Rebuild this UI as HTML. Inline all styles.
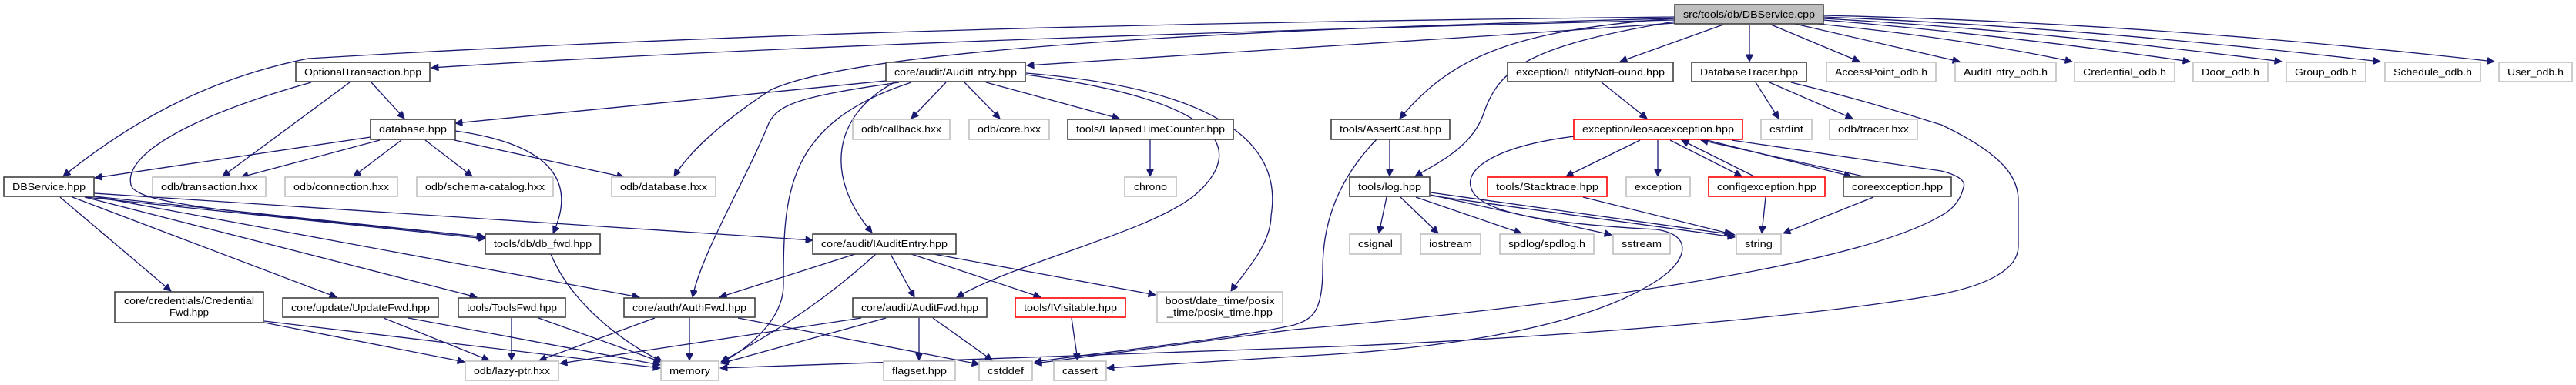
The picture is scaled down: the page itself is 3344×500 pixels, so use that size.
<!DOCTYPE html>
<html><head><meta charset="utf-8"><style>
html,body{margin:0;padding:0;background:#fff;}
svg{display:block;}
text{font-family:"Liberation Sans",sans-serif;font-size:13px;fill:#000;text-anchor:middle;}
.b{fill:#fff;stroke:#404040;stroke-width:1.6;}
.g{fill:#fff;stroke:#bfbfbf;stroke-width:1.6;}
.r{fill:#fff;stroke:#ff0000;stroke-width:1.6;}
.e path{fill:none;stroke:#191970;stroke-width:1.3;}
</style></head><body>
<svg width="3344" height="500" viewBox="0 0 3344 500" xmlns="http://www.w3.org/2000/svg">
<defs><marker id="a" viewBox="0 0 10 10" refX="10" refY="5" markerWidth="11" markerHeight="9" markerUnits="userSpaceOnUse" orient="auto"><path d="M0,0 L10,5 L0,10 z" fill="#191970" stroke="#191970"/></marker></defs>
<g class="e" marker-end="url(#a)">
<path marker-end="url(#a)" d="M2174,22 C1600,28 1000,40 400,76 C280,100 180,150 82,229"/>
<path marker-end="url(#a)" d="M2174,26 C1600,40 1000,60 560,88"/>
<path marker-end="url(#a)" d="M2174,30 C1900,50 1700,60 1333,85"/>
<path marker-end="url(#a)" d="M2174,24 C1500,40 1100,70 1000,117 C950,150 900,190 875,229"/>
<path marker-end="url(#a)" d="M2174,24 C1950,40 1880,80 1817,154"/>
<path marker-end="url(#a)" d="M2174,28 C1980,60 1945,90 1925,150 C1910,190 1870,210 1837,229"/>
<path marker-end="url(#a)" d="M2237,32 L2103,80"/>
<path marker-end="url(#a)" d="M2271,32 L2271,80"/>
<path marker-end="url(#a)" d="M2299,32 L2414,80"/>
<path marker-end="url(#a)" d="M2330,31 L2544,80"/>
<path marker-end="url(#a)" d="M2360,31 Q2550,50 2690,80"/>
<path marker-end="url(#a)" d="M2367,26 Q2600,45 2843,80"/>
<path marker-end="url(#a)" d="M2367,24 Q2650,40 2962,80"/>
<path marker-end="url(#a)" d="M2367,22 Q2700,35 3090,80"/>
<path marker-end="url(#a)" d="M2367,20 Q2800,30 3238,80"/>
<path marker-end="url(#a)" d="M482,107 L525,154"/>
<path marker-end="url(#a)" d="M454,107 L289,229"/>
<path marker-end="url(#a)" d="M404,107 C250,150 160,200 170,240 C175,265 300,275 628,308"/>
<path marker-end="url(#a)" d="M481,178 L123,231"/>
<path marker-end="url(#a)" d="M493,182 L313,230"/>
<path marker-end="url(#a)" d="M521,182 L459,229"/>
<path marker-end="url(#a)" d="M552,182 L613,229"/>
<path marker-end="url(#a)" d="M590,182 L810,230"/>
<path marker-end="url(#a)" d="M591,170 C712,187 750,233 718,303"/>
<path marker-end="url(#a)" d="M122,255 L630,308"/>
<path marker-end="url(#a)" d="M112,256 L630,310"/>
<path marker-end="url(#a)" d="M122,251 L1055,312"/>
<path marker-end="url(#a)" d="M78,256 L222,378"/>
<path marker-end="url(#a)" d="M94,256 L437,386"/>
<path marker-end="url(#a)" d="M110,256 L619,386"/>
<path marker-end="url(#a)" d="M122,255 L830,386"/>
<path marker-end="url(#a)" d="M343,419 L603,470"/>
<path marker-end="url(#a)" d="M343,417 L857,478"/>
<path marker-end="url(#a)" d="M498,413 L635,468"/>
<path marker-end="url(#a)" d="M530,413 L857,474"/>
<path marker-end="url(#a)" d="M664,413 L664,468"/>
<path marker-end="url(#a)" d="M699,413 L858,470"/>
<path marker-end="url(#a)" d="M850,413 L700,468"/>
<path marker-end="url(#a)" d="M895,413 L895,468"/>
<path marker-end="url(#a)" d="M958,413 L1271,473"/>
<path marker-end="url(#a)" d="M715,330 C740,390 800,440 860,470"/>
<path marker-end="url(#a)" d="M1150,105 L591,160"/>
<path marker-end="url(#a)" d="M1167,107 C1040,125 1010,135 998,160 C970,230 910,330 899,386"/>
<path marker-end="url(#a)" d="M1183,107 C1020,160 1017,250 1017,370 C1017,420 960,460 937,470"/>
<path marker-end="url(#a)" d="M1161,107 C1080,150 1070,230 1132,302"/>
<path marker-end="url(#a)" d="M1228,107 L1183,154"/>
<path marker-end="url(#a)" d="M1252,107 L1298,154"/>
<path marker-end="url(#a)" d="M1280,107 L1453,154"/>
<path marker-end="url(#a)" d="M1332,97 C1580,130 1620,190 1555,250 C1500,300 1320,340 1242,386"/>
<path marker-end="url(#a)" d="M1332,95 C1640,120 1660,220 1650,280 C1650,320 1610,360 1598,378"/>
<path marker-end="url(#a)" d="M1493,181 L1493,229"/>
<path marker-end="url(#a)" d="M1110,330 L934,386"/>
<path marker-end="url(#a)" d="M1137,330 C1060,400 990,440 936,470"/>
<path marker-end="url(#a)" d="M1156,330 L1187,386"/>
<path marker-end="url(#a)" d="M1183,330 L1351,386"/>
<path marker-end="url(#a)" d="M1212,330 L1500,383"/>
<path marker-end="url(#a)" d="M1118,413 L727,472"/>
<path marker-end="url(#a)" d="M1150,413 L936,472"/>
<path marker-end="url(#a)" d="M1193,413 L1193,468"/>
<path marker-end="url(#a)" d="M1211,413 L1288,468"/>
<path marker-end="url(#a)" d="M1391,413 L1399,468"/>
<path marker-end="url(#a)" d="M1787,181 C1730,240 1717,300 1717,350 C1717,410 1700,415 1680,422 C1600,440 1450,455 1343,470"/>
<path marker-end="url(#a)" d="M2248,182 L2520,222 C2544,228 2552,236 2549,243 C2545,260 2535,272 2520,280 C2400,350 2000,400 1680,428 L1343,472"/>
<path marker-end="url(#a)" d="M2325,107 C2420,130 2480,150 2520,162 C2600,200 2620,230 2620,260 L2620,320 C2620,350 2580,370 2520,382 C2300,420 1900,445 1680,452 L935,478"/>
<path marker-end="url(#a)" d="M2044,177 C1940,190 1900,220 1910,245 C1920,275 2000,290 2150,298 C2200,305 2190,340 2150,365 C2050,430 1850,455 1680,463 L1437,478"/>
<path marker-end="url(#a)" d="M1804,181 L1804,229"/>
<path marker-end="url(#a)" d="M1800,256 L1790,303"/>
<path marker-end="url(#a)" d="M1818,256 L1867,303"/>
<path marker-end="url(#a)" d="M1838,256 L1975,303"/>
<path marker-end="url(#a)" d="M1857,253 L2092,305"/>
<path marker-end="url(#a)" d="M1857,250 L2252,305"/>
<path marker-end="url(#a)" d="M1857,254 L2252,308"/>
<path marker-end="url(#a)" d="M2129,182 L2033,229"/>
<path marker-end="url(#a)" d="M2152,182 L2152,229"/>
<path marker-end="url(#a)" d="M2168,182 L2261,229"/>
<path marker-end="url(#a)" d="M2277,229 L2183,182"/>
<path marker-end="url(#a)" d="M2419,229 L2208,182"/>
<path marker-end="url(#a)" d="M2216,182 L2403,229"/>
<path marker-end="url(#a)" d="M2055,256 L2248,304"/>
<path marker-end="url(#a)" d="M2292,256 L2287,303"/>
<path marker-end="url(#a)" d="M2432,256 L2315,303"/>
<path marker-end="url(#a)" d="M2079,107 L2138,154"/>
<path marker-end="url(#a)" d="M2279,107 L2309,154"/>
<path marker-end="url(#a)" d="M2297,107 L2405,154"/>
</g>
<!-- nodes -->
<rect x="2174" y="6" width="193" height="25" fill="#bfbfbf" stroke="#404040" stroke-width="1.6"/><text x="2270.5" y="23" textLength="171" lengthAdjust="spacingAndGlyphs">src/tools/db/DBService.cpp</text>
<rect class="b" x="384" y="81" width="174" height="25"/><text x="471" y="98" textLength="152" lengthAdjust="spacingAndGlyphs">OptionalTransaction.hpp</text>
<rect class="b" x="1150" y="81" width="181" height="25"/><text x="1240.5" y="98" textLength="159" lengthAdjust="spacingAndGlyphs">core/audit/AuditEntry.hpp</text>
<rect class="b" x="1957" y="81" width="215" height="25"/><text x="2064.5" y="98" textLength="193" lengthAdjust="spacingAndGlyphs">exception/EntityNotFound.hpp</text>
<rect class="b" x="2196" y="81" width="149" height="25"/><text x="2270.5" y="98" textLength="127" lengthAdjust="spacingAndGlyphs">DatabaseTracer.hpp</text>
<rect class="g" x="2371" y="81" width="142" height="25"/><text x="2442" y="98" textLength="120" lengthAdjust="spacingAndGlyphs">AccessPoint_odb.h</text>
<rect class="g" x="2538" y="81" width="131" height="25"/><text x="2603.5" y="98" textLength="109" lengthAdjust="spacingAndGlyphs">AuditEntry_odb.h</text>
<rect class="g" x="2693" y="81" width="130" height="25"/><text x="2758" y="98" textLength="108" lengthAdjust="spacingAndGlyphs">Credential_odb.h</text>
<rect class="g" x="2847" y="81" width="97" height="25"/><text x="2895.5" y="98" textLength="75" lengthAdjust="spacingAndGlyphs">Door_odb.h</text>
<rect class="g" x="2968" y="81" width="103" height="25"/><text x="3019.5" y="98" textLength="81" lengthAdjust="spacingAndGlyphs">Group_odb.h</text>
<rect class="g" x="3096" y="81" width="124" height="25"/><text x="3158" y="98" textLength="102" lengthAdjust="spacingAndGlyphs">Schedule_odb.h</text>
<rect class="g" x="3244" y="81" width="95" height="25"/><text x="3291.5" y="98" textLength="73" lengthAdjust="spacingAndGlyphs">User_odb.h</text>
<rect class="b" x="481" y="155" width="110" height="26"/><text x="536" y="172" textLength="88" lengthAdjust="spacingAndGlyphs">database.hpp</text>
<rect class="g" x="1107" y="155" width="126" height="26"/><text x="1170" y="172" textLength="104" lengthAdjust="spacingAndGlyphs">odb/callback.hxx</text>
<rect class="g" x="1258" y="155" width="104" height="26"/><text x="1310" y="172" textLength="82" lengthAdjust="spacingAndGlyphs">odb/core.hxx</text>
<rect class="b" x="1386" y="155" width="215" height="26"/><text x="1493.5" y="172" textLength="193" lengthAdjust="spacingAndGlyphs">tools/ElapsedTimeCounter.hpp</text>
<rect class="b" x="1728" y="155" width="154" height="26"/><text x="1805" y="172" textLength="132" lengthAdjust="spacingAndGlyphs">tools/AssertCast.hpp</text>
<rect class="r" x="2043" y="155" width="219" height="26"/><text x="2152.5" y="172" textLength="197" lengthAdjust="spacingAndGlyphs">exception/leosacexception.hpp</text>
<rect class="g" x="2286" y="155" width="66" height="26"/><text x="2319" y="172" textLength="44" lengthAdjust="spacingAndGlyphs">cstdint</text>
<rect class="g" x="2375" y="155" width="114" height="26"/><text x="2432" y="172" textLength="92" lengthAdjust="spacingAndGlyphs">odb/tracer.hxx</text>
<rect class="b" x="5" y="230" width="117" height="25"/><text x="63.5" y="247" textLength="95" lengthAdjust="spacingAndGlyphs">DBService.hpp</text>
<rect class="g" x="198" y="230" width="147" height="25"/><text x="271.5" y="247" textLength="125" lengthAdjust="spacingAndGlyphs">odb/transaction.hxx</text>
<rect class="g" x="370" y="230" width="146" height="25"/><text x="443" y="247" textLength="124" lengthAdjust="spacingAndGlyphs">odb/connection.hxx</text>
<rect class="g" x="541" y="230" width="177" height="25"/><text x="629.5" y="247" textLength="155" lengthAdjust="spacingAndGlyphs">odb/schema-catalog.hxx</text>
<rect class="g" x="794" y="230" width="135" height="25"/><text x="861.5" y="247" textLength="113" lengthAdjust="spacingAndGlyphs">odb/database.hxx</text>
<rect class="g" x="1460" y="230" width="67" height="25"/><text x="1493.5" y="247" textLength="43" lengthAdjust="spacingAndGlyphs">chrono</text>
<rect class="b" x="1752" y="230" width="104" height="25"/><text x="1804" y="247" textLength="82" lengthAdjust="spacingAndGlyphs">tools/log.hpp</text>
<rect class="r" x="1931" y="230" width="155" height="25"/><text x="2008.5" y="247" textLength="133" lengthAdjust="spacingAndGlyphs">tools/Stacktrace.hpp</text>
<rect class="g" x="2111" y="230" width="83" height="25"/><text x="2152.5" y="247" textLength="61" lengthAdjust="spacingAndGlyphs">exception</text>
<rect class="r" x="2218" y="230" width="151" height="25"/><text x="2293.5" y="247" textLength="129" lengthAdjust="spacingAndGlyphs">configexception.hpp</text>
<rect class="b" x="2393" y="230" width="140" height="25"/><text x="2463" y="247" textLength="118" lengthAdjust="spacingAndGlyphs">coreexception.hpp</text>
<rect class="b" x="630" y="304" width="149" height="26"/><text x="704.5" y="321" textLength="127" lengthAdjust="spacingAndGlyphs">tools/db/db_fwd.hpp</text>
<rect class="b" x="1055" y="304" width="186" height="26"/><text x="1148" y="321" textLength="164" lengthAdjust="spacingAndGlyphs">core/audit/IAuditEntry.hpp</text>
<rect class="g" x="1752" y="304" width="67" height="26"/><text x="1785.5" y="321" textLength="45" lengthAdjust="spacingAndGlyphs">csignal</text>
<rect class="g" x="1844" y="304" width="78" height="26"/><text x="1883" y="321" textLength="56" lengthAdjust="spacingAndGlyphs">iostream</text>
<rect class="g" x="1947" y="304" width="122" height="26"/><text x="2008" y="321" textLength="100" lengthAdjust="spacingAndGlyphs">spdlog/spdlog.h</text>
<rect class="g" x="2094" y="304" width="74" height="26"/><text x="2131" y="321" textLength="52" lengthAdjust="spacingAndGlyphs">sstream</text>
<rect class="g" x="2254" y="304" width="58" height="26"/><text x="2283" y="321" textLength="36" lengthAdjust="spacingAndGlyphs">string</text>
<rect class="b" x="149" y="379" width="193" height="40"/><text x="245.5" y="395" textLength="169" lengthAdjust="spacingAndGlyphs">core/credentials/Credential</text><text x="245.5" y="410" textLength="51" lengthAdjust="spacingAndGlyphs">Fwd.hpp</text>
<rect class="g" x="1502" y="379" width="163" height="40"/><text x="1583.5" y="395" textLength="142" lengthAdjust="spacingAndGlyphs">boost/date_time/posix</text><text x="1583.5" y="410" textLength="137" lengthAdjust="spacingAndGlyphs">_time/posix_time.hpp</text>
<rect class="b" x="367" y="387" width="202" height="25"/><text x="468" y="404" textLength="180" lengthAdjust="spacingAndGlyphs">core/update/UpdateFwd.hpp</text>
<rect class="b" x="595" y="387" width="139" height="25"/><text x="664.5" y="404" textLength="117" lengthAdjust="spacingAndGlyphs">tools/ToolsFwd.hpp</text>
<rect class="b" x="810" y="387" width="170" height="25"/><text x="895" y="404" textLength="148" lengthAdjust="spacingAndGlyphs">core/auth/AuthFwd.hpp</text>
<rect class="b" x="1107" y="387" width="174" height="25"/><text x="1194" y="404" textLength="152" lengthAdjust="spacingAndGlyphs">core/audit/AuditFwd.hpp</text>
<rect class="r" x="1318" y="387" width="143" height="25"/><text x="1389.5" y="404" textLength="121" lengthAdjust="spacingAndGlyphs">tools/IVisitable.hpp</text>
<rect class="g" x="604" y="469" width="121" height="25"/><text x="664.5" y="486" textLength="99" lengthAdjust="spacingAndGlyphs">odb/lazy-ptr.hxx</text>
<rect class="g" x="858" y="469" width="75" height="25"/><text x="895.5" y="486" textLength="53" lengthAdjust="spacingAndGlyphs">memory</text>
<rect class="g" x="1147" y="469" width="93" height="25"/><text x="1193.5" y="486" textLength="71" lengthAdjust="spacingAndGlyphs">flagset.hpp</text>
<rect class="g" x="1271" y="469" width="69" height="25"/><text x="1305.5" y="486" textLength="47" lengthAdjust="spacingAndGlyphs">cstddef</text>
<rect class="g" x="1368" y="469" width="68" height="25"/><text x="1402" y="486" textLength="46" lengthAdjust="spacingAndGlyphs">cassert</text>
</svg>
</body></html>
